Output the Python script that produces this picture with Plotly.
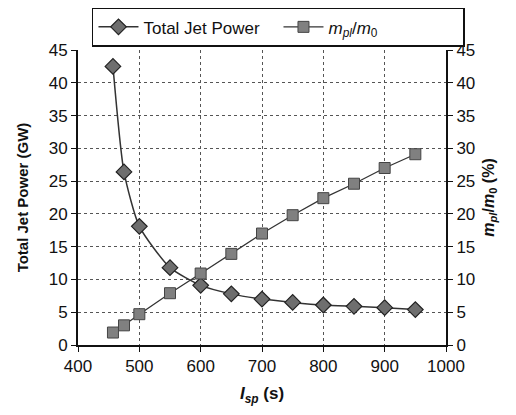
import plotly.graph_objects as go

isp = [457, 475, 500, 550, 600, 650, 700, 750, 800, 850, 900, 950]
jet_power = [42.5, 26.4, 18.1, 11.8, 9.1, 7.8, 7.0, 6.5, 6.1, 5.9, 5.7, 5.4]
mass_frac = [1.9, 3.0, 4.7, 7.9, 10.9, 13.9, 17.0, 19.8, 22.4, 24.6, 27.0, 29.1]
y_ticks = [0, 5, 10, 15, 20, 25, 30, 35, 40, 45]
x_ticks = [400, 500, 600, 700, 800, 900, 1000]

FONT = "Liberation Sans, Arial, sans-serif"

fig = go.Figure()
fig.add_trace(go.Scatter(
    x=isp, y=jet_power, name="Total Jet Power", mode="lines+markers",
    line=dict(color="#333333", width=1.5, shape="spline", smoothing=0.6),
    marker=dict(symbol="diamond", size=12, color="#6e6e6e",
                line=dict(color="#222222", width=1.2)),
))
fig.add_trace(go.Scatter(
    x=isp, y=mass_frac, name="<i>m<sub>pl</sub></i>/<i>m</i><sub>0</sub>",
    mode="lines+markers", yaxis="y2",
    line=dict(color="#333333", width=1.3),
    marker=dict(symbol="square", size=11, color="#808080",
                line=dict(color="#444444", width=1)),
))

grid = dict(showgrid=True, gridcolor="#555555", gridwidth=1, griddash="dot")
fig.update_layout(
    width=516, height=415,
    margin=dict(l=78, r=70, t=50, b=70, autoexpand=False),
    paper_bgcolor="white", plot_bgcolor="white",
    font=dict(family=FONT, size=17, color="#111111"),
    showlegend=True,
    legend=dict(orientation="h", x=0.038, y=1.143, xanchor="left", yanchor="top",
                bgcolor="white", bordercolor="#111111", borderwidth=1.5,
                font=dict(size=17), itemwidth=40,
                entrywidth=130, entrywidthmode="pixels"),
    xaxis=dict(range=[400, 1000], tickvals=x_ticks, ticks="outside", ticklen=5,
               tickcolor="#111111", showline=True, linecolor="#111111", linewidth=2,
               mirror=False, zeroline=False,
               title=dict(text="<b><i>I<sub>sp</sub></i> (s)</b>", font=dict(size=17), standoff=12),
               **grid),
    yaxis=dict(range=[0, 45], tickvals=y_ticks, ticks="outside", ticklen=5,
               tickcolor="#111111", showline=True, linecolor="#111111", linewidth=2,
               zeroline=False,
               title=dict(text="<b>Total Jet Power (GW)</b>", font=dict(size=15), standoff=16),
               **grid),
    yaxis2=dict(range=[0, 45], tickvals=y_ticks, ticks="outside", ticklen=5,
                tickcolor="#111111", showline=True, linecolor="#111111", linewidth=2,
                overlaying="y", side="right", showgrid=False, zeroline=False,
                title=dict(text="<b><i>m<sub>pl</sub></i>/<i>m</i><sub>0</sub> (%)</b>",
                           font=dict(size=16), standoff=8)),
)
fig.write_html("out.html")
